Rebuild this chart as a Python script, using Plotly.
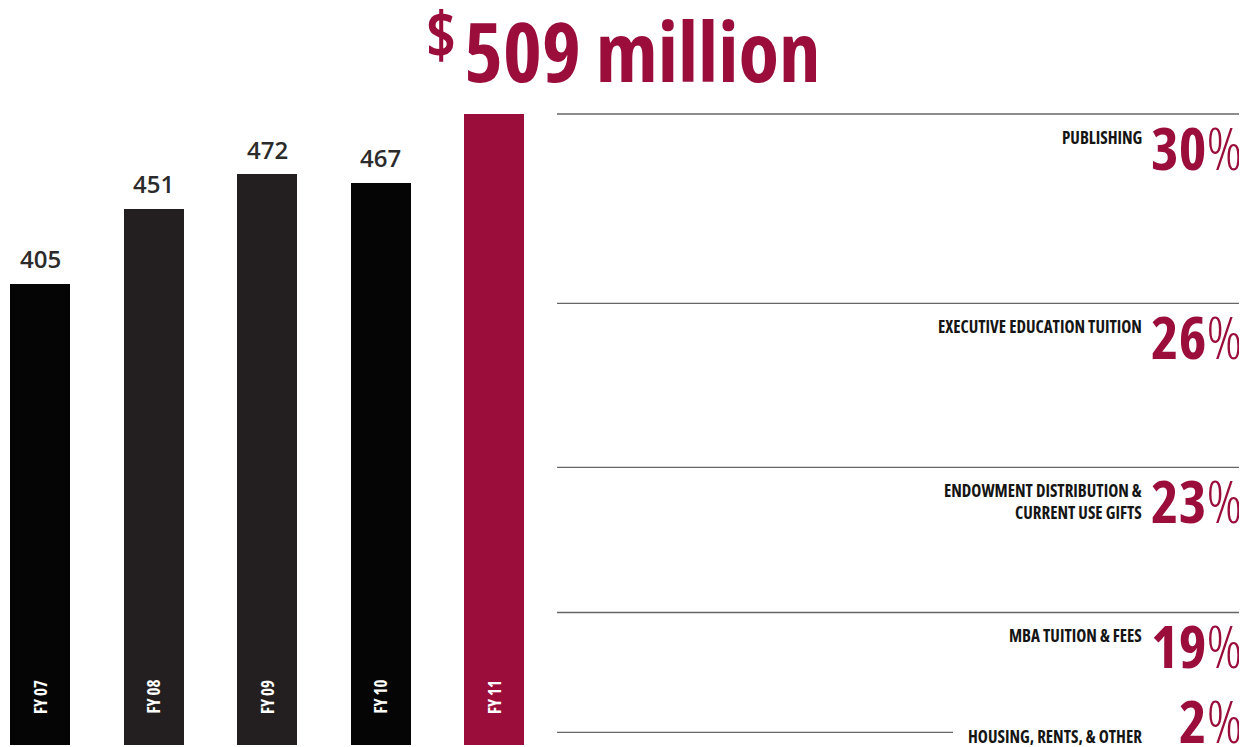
import plotly.graph_objects as go

# ---------------- data ----------------
years = ["FY 07", "FY 08", "FY 09", "FY 10", "FY 11"]
revenue = [405, 451, 472, 467, 509]          # $ millions
bar_colors = ["#050505", "#231f20", "#231f20", "#050505", "#9b0e3b"]

sources = [
    "PUBLISHING",
    "EXECUTIVE EDUCATION TUITION",
    "ENDOWMENT DISTRIBUTION &<br>CURRENT USE GIFTS",
    "MBA TUITION & FEES",
    "HOUSING, RENTS, & OTHER",
]
shares = [30, 26, 23, 19, 2]                  # percent of FY11 revenue

# ---------------- styles ----------------
CRIMSON = "#9b0e3b"
FAM = "Open Sans, Roboto, sans-serif"


def cond(t):
    return f"<span style='font-stretch:75%'>{t}</span>"


def cond_bold_lines(t):
    return "<br>".join(cond(f"<b>{p}</b>") for p in t.split("<br>"))


W, H = 1239, 739

fig = go.Figure()

# bars
fig.add_trace(go.Bar(
    x=years, y=revenue, width=0.5286,
    marker=dict(color=bar_colors, line=dict(width=0)),
    hoverinfo="skip", xaxis="x", yaxis="y", showlegend=False,
))

# value labels above bars (not for the highlighted latest year)
for yr, v in zip(years[:-1], revenue[:-1]):
    fig.add_annotation(x=yr, y=v, xref="x", yref="y", text=str(v),
                       showarrow=False, yanchor="middle", yshift=25,
                       font=dict(family=FAM, size=24, color="#2b2b2b", weight=600))

# year labels inside bars
for yr in years:
    fig.add_annotation(x=yr, y=0.0393, xref="x", yref="y domain", text=cond(f"<b>{yr}</b>"),
                       textangle=-90, showarrow=False,
                       font=dict(family=FAM, size=17, color="white"))

# breakdown of the latest year
cum = [0]
for s in shares:
    cum.append(cum[-1] + s)

for i, (src, s) in enumerate(zip(sources, shares)):
    last = i == len(shares) - 1
    fig.add_trace(go.Scatter(
        x=[557, 953 if last else 1240], y=[cum[i], cum[i]],
        mode="lines", line=dict(color="#666666", width=1.3),
        hoverinfo="skip", xaxis="x2", yaxis="y2", showlegend=False,
    ))
    pct_text = cond(f"<b>{s}</b><span style='font-weight:300'>%</span>")
    if last:
        fig.add_annotation(x=1144, y=cum[i + 1], xref="x2", yref="y2", text=cond_bold_lines(src),
                           xanchor="right", yanchor="bottom", yshift=-5,
                           showarrow=False, align="right",
                           font=dict(family=FAM, size=17, color="#151515"))
        fig.add_annotation(x=1244, y=cum[i + 1], xref="x2", yref="y2", text=pct_text,
                           xanchor="right", yanchor="bottom", yshift=-17,
                           showarrow=False,
                           font=dict(family=FAM, size=59, color=CRIMSON))
    else:
        fig.add_annotation(x=1144, y=cum[i], xref="x2", yref="y2", text=cond_bold_lines(src),
                           xanchor="right", yanchor="top", yshift=-10,
                           showarrow=False, align="right",
                           font=dict(family=FAM, size=17, color="#151515"))
        fig.add_annotation(x=1244, y=cum[i], xref="x2", yref="y2", text=pct_text,
                           xanchor="right", yanchor="top", yshift=9,
                           showarrow=False,
                           font=dict(family=FAM, size=59, color=CRIMSON))

# headline total
fig.add_annotation(x=462, y=0.8647, xref="x2", yref="paper",
                   text=cond(f"<b>{revenue[-1]} million</b>"), xanchor="left", yanchor="bottom",
                   showarrow=False, font=dict(family=FAM, size=83, color=CRIMSON))
fig.add_annotation(x=458, y=0.903, xref="x2", yref="paper",
                   text=cond("<b>$</b>"), xanchor="right", yanchor="bottom",
                   showarrow=False, font=dict(family=FAM, size=64, color=CRIMSON))

fig.update_layout(
    width=W, height=H,
    margin=dict(l=0, r=0, t=0, b=2),
    paper_bgcolor="white", plot_bgcolor="rgba(0,0,0,0)",
    bargap=0,
    xaxis=dict(domain=[0, 0.44], type="category", range=[-0.28194, 4.52123],
               visible=False, fixedrange=True),
    yaxis=dict(domain=[0, 1], range=[122.83, 573.87], visible=False, fixedrange=True),
    xaxis2=dict(domain=[0, 1], range=[8, 1247], anchor="y2", visible=False, fixedrange=True),
    yaxis2=dict(domain=[0, 1], range=[100, -16.80], anchor="x2", visible=False, fixedrange=True),
)

fig.write_html("out.html")
